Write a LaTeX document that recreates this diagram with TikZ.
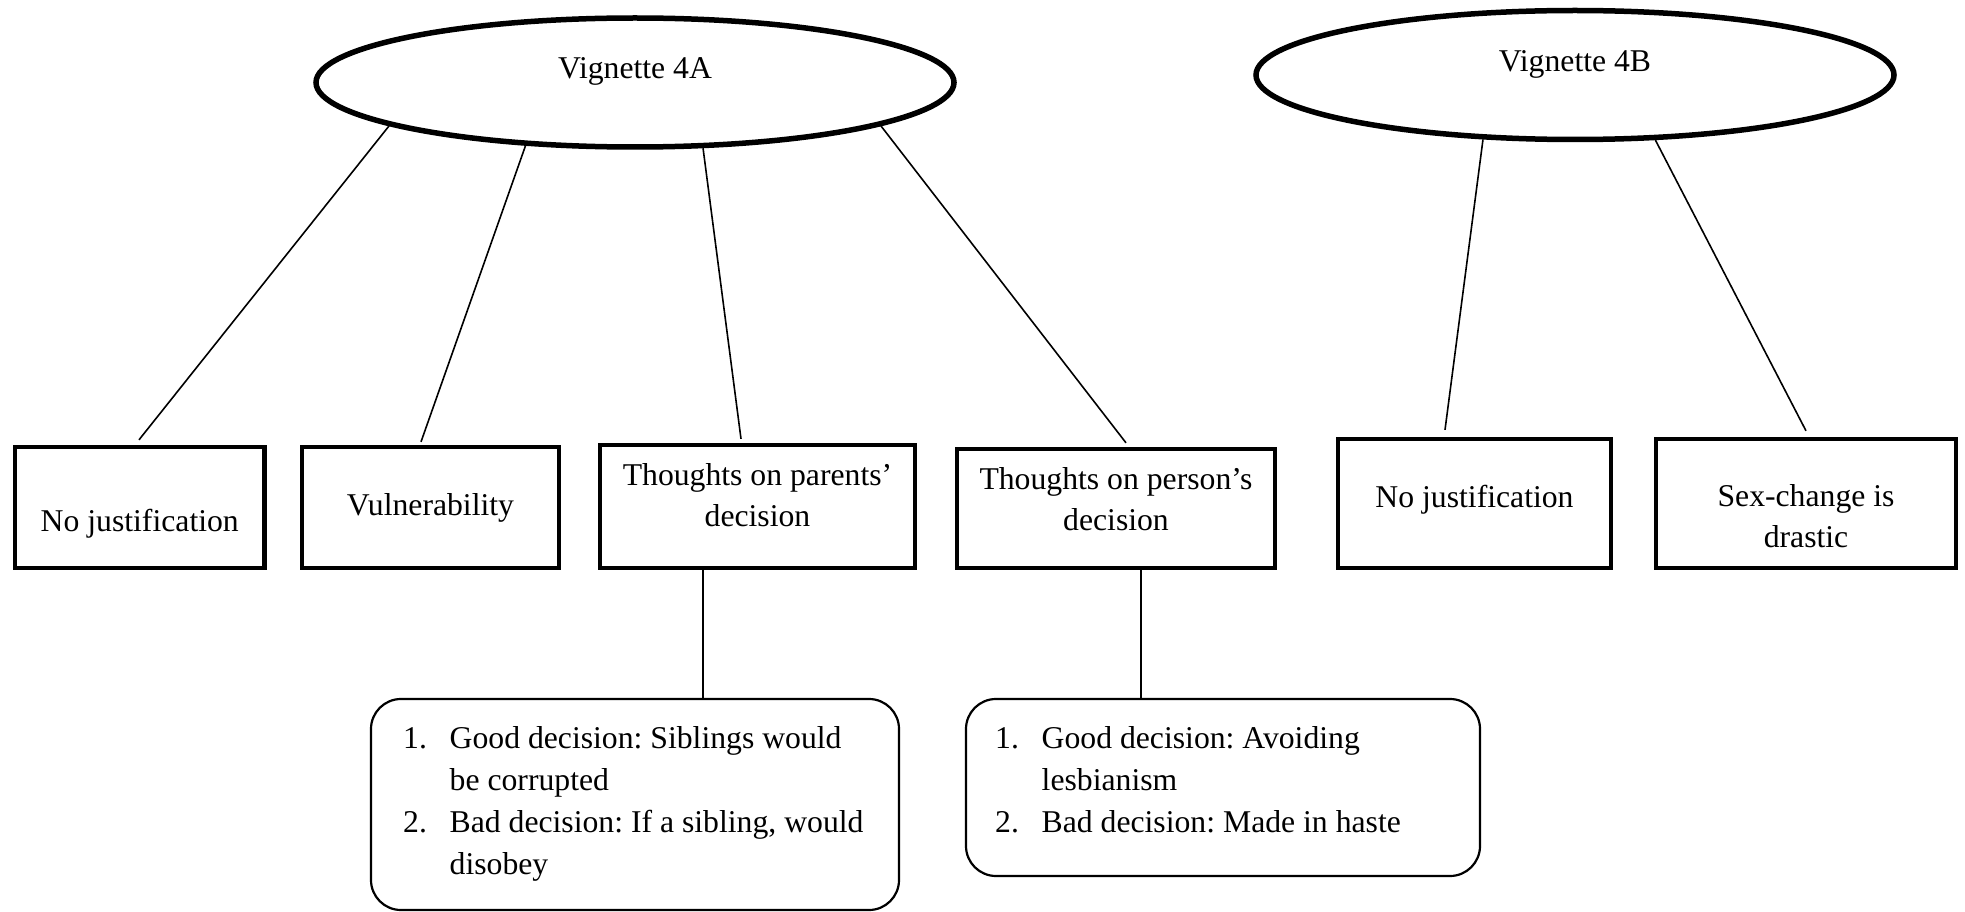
\documentclass[tikz,border=0pt]{standalone}
\usepackage{fontspec}
\setmainfont{Liberation Serif}
\usetikzlibrary{shapes.geometric}
\frenchspacing
\begin{document}
\begin{tikzpicture}[x=1pt,y=-1pt,
  oval/.style={ellipse, draw, line width=5.5pt, minimum width=638pt, minimum height=129pt, inner sep=0pt},
  catbox/.style={draw, line width=4.3pt, inner sep=0pt},
  listbox/.style={draw, line width=2.2pt, rounded corners=30pt, inner sep=0pt},
  link/.style={line width=1.6pt},
  lbl/.style={font=\fontsize{31.7}{41}\selectfont, align=center, inner sep=0pt, anchor=base},
  listtxt/.style={font=\fontsize{31.7}{42}\selectfont, inner sep=0pt, anchor=base west},
]
\useasboundingbox (0,0) rectangle (1965,912);

% vignette ovals
\node[oval] (A) at (635,82.5) {};
\node[oval] (B) at (1575,75) {};
\node[lbl] (Atxt) at (635,78.5) {Vignette 4A};
\node[lbl] (Btxt) at (1575,71.7) {Vignette 4B};

% category boxes
\node[catbox, minimum width=249.5pt, minimum height=121pt] (c1) at (139.75,507.5) {};
\node[catbox, minimum width=257pt, minimum height=121pt] (c2) at (430.5,507.5) {};
\node[catbox, minimum width=315pt, minimum height=123pt] (c3) at (757.5,506.5) {};
\node[catbox, minimum width=318pt, minimum height=119pt] (c4) at (1116,508.5) {};
\node[catbox, minimum width=273pt, minimum height=129pt] (c5) at (1474.5,503.5) {};
\node[catbox, minimum width=300pt, minimum height=129pt] (c6) at (1806,503.5) {};

% labels (base anchor = baseline of the last line)
\node[lbl] (c1t) at (139.75,531.7) {No justification};
\node[lbl] (c2t) at (430.5,515) {Vulnerability};
\node[lbl] (c3t) at (757.5,526) {Thoughts on parents’\\decision};
\node[lbl] (c4t) at (1116,530) {Thoughts on person’s\\decision};
\node[lbl] (c5t) at (1474.5,507) {No justification};
\node[lbl] (c6t) at (1806,547) {Sex-change is\\drastic};

% detail boxes
\node[listbox, minimum width=528pt, minimum height=211pt] (L) at (635,804.5) {};
\node[listbox, minimum width=514pt, minimum height=177pt] (R) at (1223,787.5) {};

\node[listtxt] (Lt) at (403,748) {\begin{tabular}[t]{@{}l@{}l@{}}
\makebox[46.5pt][l]{1.} & Good decision: Siblings would\\
 & be corrupted\\
\makebox[46.5pt][l]{2.} & Bad decision: If a sibling, would\\
 & disobey
\end{tabular}};
\node[listtxt] (Rt) at (995,748) {\begin{tabular}[t]{@{}l@{}l@{}}
\makebox[46.5pt][l]{1.} & Good decision: Avoiding\\
 & lesbianism\\
\makebox[46.5pt][l]{2.} & Bad decision: Made in haste
\end{tabular}};

% connectors
\draw[link] (A.190.06) -- ([shift={(-0.75pt,5pt)}]c1.north);
\draw[link] (A.210.04) -- ([shift={(-9.5pt,3pt)}]c2.north);
\draw[link] (A.316.98) -- ([shift={(-16.5pt,4pt)}]c3.north);
\draw[link] (A.350.97) -- ([shift={(10pt,4pt)}]c4.north);
\draw[link] (B.215.12) -- ([shift={(-29.5pt,7pt)}]c5.north);
\draw[link] (B.321.3) -- ([shift={(0pt,6pt)}]c6.north);
\draw[link] ([xshift=-54.5pt]c3.south) -- ([xshift=68pt]L.north);
\draw[link] ([xshift=25pt]c4.south) -- ([xshift=-82pt]R.north);
\end{tikzpicture}
\end{document}
